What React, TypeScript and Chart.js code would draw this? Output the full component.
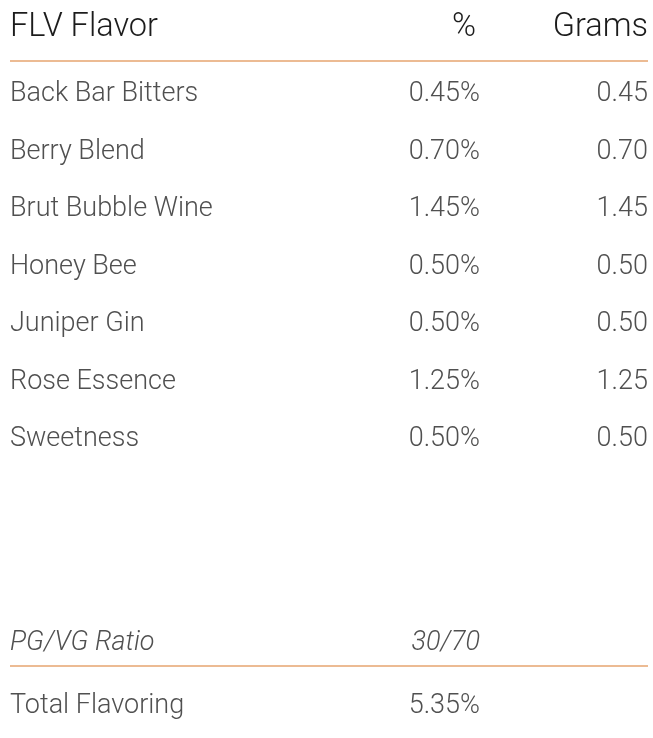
import React, { useEffect, useRef } from "react";
import { Chart, registerables } from "chart.js";

Chart.register(...registerables);

const headerLabels = ["FLV Flavor", "%", "Grams"];
const flavors = [
  "Back Bar Bitters",
  "Berry Blend",
  "Brut Bubble Wine",
  "Honey Bee",
  "Juniper Gin",
  "Rose Essence",
  "Sweetness",
];
const percents = [0.45, 0.7, 1.45, 0.5, 0.5, 1.25, 0.5];
const grams = [0.45, 0.7, 1.45, 0.5, 0.5, 1.25, 0.5];
const ratioLabel = "PG/VG Ratio";
const ratioValue = "30/70";
const totalLabel = "Total Flavoring";
const totalValue = 5.35;

const FONT = "Roboto, 'Liberation Sans', sans-serif";
const ACCENT = "#ECBB93";
const ROW_COLOR = "#505050";
const HEAD_COLOR = "#1c1c1c";
const HEAD_SIZE = 32.5;
const ROW_SIZE = 27;

const tablePlugin = {
  id: "tablePlugin",
  afterDraw(chart: any) {
    const ctx = chart.ctx as CanvasRenderingContext2D;
    const area = chart.chartArea;
    const y = chart.scales.y;
    const left = area.left;
    const right = area.right;
    const pctRight = 480;
    ctx.save();

    const text = (
      s: string,
      x: number,
      cy: number,
      size: number,
      align: CanvasTextAlign,
      color: string,
      italic = false
    ) => {
      ctx.font = `${italic ? "italic " : ""}300 ${size}px ${FONT}`;
      ctx.fillStyle = color;
      ctx.textAlign = align;
      ctx.textBaseline = "alphabetic";
      ctx.fillText(s, x, cy + size * 0.36);
    };
    const line = (ly: number) => {
      ctx.strokeStyle = ACCENT;
      ctx.lineWidth = 2;
      ctx.beginPath();
      ctx.moveTo(left, ly);
      ctx.lineTo(right, ly);
      ctx.stroke();
    };

    // header
    const headY = area.top - 39;
    text(headerLabels[0], left, headY, HEAD_SIZE, "left", HEAD_COLOR);
    text(headerLabels[1], pctRight - 4, headY, HEAD_SIZE, "right", HEAD_COLOR);
    text(headerLabels[2], right, headY, HEAD_SIZE, "right", HEAD_COLOR);
    line(area.top - 2);

    // rows
    flavors.forEach((f, i) => {
      const cy = y.getPixelForValue(i);
      text(f, left, cy, ROW_SIZE, "left", ROW_COLOR);
      text(percents[i].toFixed(2) + "%", pctRight, cy, ROW_SIZE, "right", ROW_COLOR);
      text(grams[i].toFixed(2), right, cy, ROW_SIZE, "right", ROW_COLOR);
    });

    // footer
    const b = area.bottom;
    text(ratioLabel, left, b + 175, ROW_SIZE, "left", ROW_COLOR, true);
    text(ratioValue, pctRight, b + 175, ROW_SIZE, "right", ROW_COLOR, true);
    line(b + 201);
    text(totalLabel, left, b + 238, ROW_SIZE, "left", ROW_COLOR);
    text(totalValue.toFixed(2) + "%", pctRight, b + 238, ROW_SIZE, "right", ROW_COLOR);

    ctx.restore();
  },
};

export default function App() {
  const ref = useRef<HTMLCanvasElement | null>(null);
  useEffect(() => {
    if (!ref.current) return;
    const chart = new Chart(ref.current, {
      type: "bar",
      data: {
        labels: flavors,
        datasets: [
          {
            data: percents,
            backgroundColor: "rgba(0,0,0,0)",
            borderWidth: 0,
          },
        ],
      },
      options: {
        indexAxis: "y",
        animation: false,
        responsive: false,
        maintainAspectRatio: false,
        layout: { padding: { top: 63, bottom: 273, left: 10, right: 5 } },
        plugins: { legend: { display: false }, tooltip: { enabled: false } },
        events: [],
        scales: {
          y: { type: "category", display: false, offset: true },
          x: { type: "linear", display: false, min: 0, max: 2 },
        },
      },
      plugins: [tablePlugin],
    });
    return () => chart.destroy();
  }, []);
  return (
    <div style={{ position: "fixed", left: 0, top: 0, width: 653, height: 738, background: "#fff" }}>
      <canvas ref={ref} width={653} height={738} style={{ width: 653, height: 738 }} />
    </div>
  );
}
